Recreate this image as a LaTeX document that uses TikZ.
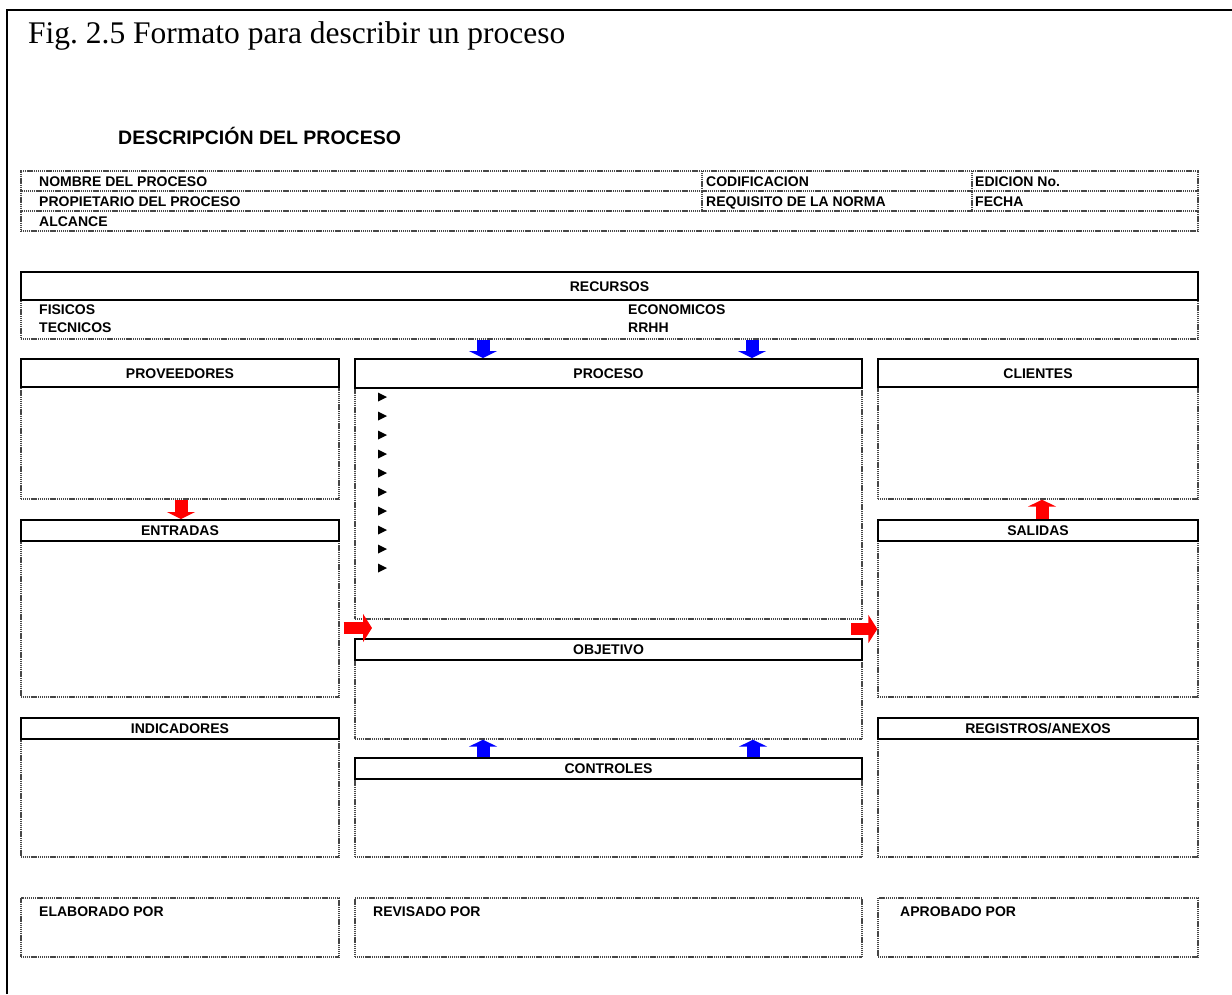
\documentclass[tikz,border=0pt]{standalone}
\usepackage{fontspec}
\setmainfont{Liberation Sans}
\newfontfamily\titlefont{Liberation Serif}
\usetikzlibrary{fit,arrows.meta}
\newcommand\lblfont{\fontsize{14}{16}\selectfont\bfseries}
\begin{document}
\begin{tikzpicture}[x=1pt,y=-1pt,
  dotline/.style={draw=black!72, line width=1.3pt, dash pattern=on 1.2pt off 0.7pt},
  dotbox/.style={dotline, inner sep=0pt},
  hdrbox/.style={draw=black, line width=1.9pt, inner sep=0pt},
  lbl/.style={font=\lblfont, inner sep=0pt, anchor=west, text height=10pt, text depth=0pt},
  hdrtxt/.style={font=\lblfont, inner sep=0pt, text height=10pt, text depth=0pt},
  redv/.style={draw=red, line width=13pt, -{Triangle[width=28pt,length=7pt]}},
  redh/.style={draw=red, line width=12pt, -{Triangle[width=28pt,length=9pt]}},
  bluev/.style={draw=blue, line width=13pt, -{Triangle[width=28pt,length=7pt]}},
  tri/.style={fill=black}
]
\useasboundingbox (0,0) rectangle (1232,994);
% outer frame
\draw[line width=2pt] (7,994) -- (7,10) -- (1232,10);
% titles
\node[anchor=base west, inner sep=0pt, font=\titlefont\fontsize{31.5}{36}\selectfont] (title) at (28,43) {\frenchspacing Fig. 2.5 Formato para describir un proceso};
\node[anchor=base west, inner sep=0pt, font=\fontsize{19.5}{22}\selectfont\bfseries] (desc) at (118,144) {DESCRIPCIÓN DEL PROCESO};
% header table
\node[dotbox, fit={(21,171) (1198,231)}] (tab) {};
\draw[dotline] (tab.west |- 0,191) -- (tab.east |- 0,191);
\draw[dotline] (tab.west |- 0,211) -- (tab.east |- 0,211);
\draw[dotline] (702,171) -- (702,211);
\draw[dotline] (972,171) -- (972,211);
\node[lbl] (nom) at (39,181) {NOMBRE DEL PROCESO};
\node[lbl] (prop) at (39,201) {PROPIETARIO DEL PROCESO};
\node[lbl] (alc) at (39,221) {ALCANCE};
\node[lbl] (cod) at (706,181) {CODIFICACION};
\node[lbl] (req) at (706,201) {REQUISITO DE LA NORMA};
\node[lbl] (edi) at (975,181) {EDICION No.};
\node[lbl] (fec) at (975,201) {FECHA};
% recursos
\node[dotbox, fit={(21,300) (1198,339)}] (recB) {};
\node[hdrbox, fit={(21,272) (1198,300)}] (recH) {};
\node[hdrtxt] (recT) at (recH.center) {RECURSOS};
\node[lbl] (fis) at (39,309) {FISICOS};
\node[lbl] (tec) at (39,327) {TECNICOS};
\node[lbl] (eco) at (628,309) {ECONOMICOS};
\node[lbl] (rrhh) at (628,327) {RRHH};
% left column
\node[dotbox, fit={(21,387) (339,499)}] (provB) {};
\node[hdrbox, fit={(21,359) (339,387)}] (provH) {};
\node[hdrtxt] (provT) at (provH.center) {PROVEEDORES};
\node[dotbox, fit={(21,541) (339,697)}] (entB) {};
\node[hdrbox, fit={(21,520) (339,541)}] (entH) {};
\node[hdrtxt] (entT) at (entH.center) {ENTRADAS};
\node[dotbox, fit={(21,739) (339,857)}] (indB) {};
\node[hdrbox, fit={(21,718) (339,739)}] (indH) {};
\node[hdrtxt] (indT) at (indH.center) {INDICADORES};
% middle column
\node[dotbox, fit={(355,388) (862,619)}] (procB) {};
\node[hdrbox, fit={(355,359) (862,388)}] (procH) {};
\node[hdrtxt] (procT) at (procH.center) {PROCESO};
\node[dotbox, fit={(355,660) (862,739)}] (objB) {};
\node[hdrbox, fit={(355,639) (862,660)}] (objH) {};
\node[hdrtxt] (objT) at (objH.center) {OBJETIVO};
\node[dotbox, fit={(355,779) (862,857)}] (ctrlB) {};
\node[hdrbox, fit={(355,758) (862,779)}] (ctrlH) {};
\node[hdrtxt] (ctrlT) at (ctrlH.center) {CONTROLES};
% right column
\node[dotbox, fit={(878,387) (1198,499)}] (cliB) {};
\node[hdrbox, fit={(878,359) (1198,387)}] (cliH) {};
\node[hdrtxt] (cliT) at (cliH.center) {CLIENTES};
\node[dotbox, fit={(878,541) (1198,697)}] (salB) {};
\node[hdrbox, fit={(878,520) (1198,541)}] (salH) {};
\node[hdrtxt] (salT) at (salH.center) {SALIDAS};
\node[dotbox, fit={(878,739) (1198,857)}] (regB) {};
\node[hdrbox, fit={(878,718) (1198,739)}] (regH) {};
\node[hdrtxt] (regT) at (regH.center) {REGISTROS/ANEXOS};
% bottom signature boxes
\node[dotbox, fit={(21,898) (339,957)}] (elab) {};
\node[dotbox, fit={(355,898) (862,957)}] (rev) {};
\node[dotbox, fit={(878,898) (1198,957)}] (apr) {};
\node[lbl] (elabT) at (39,911) {ELABORADO POR};
\node[lbl] (revT) at (373,911) {REVISADO POR};
\node[lbl] (aprT) at (900,911) {APROBADO POR};
% bullets in PROCESO
\foreach \k in {0,...,9}{
  \fill[tri] (378,{397+19*\k-4.5}) -- (387,{397+19*\k}) -- (378,{397+19*\k+4.5}) -- cycle;
}
% arrows
\draw[bluev] (483,0 |- recB.south) -- (483,0 |- procH.north);
\draw[bluev] (752,0 |- recB.south) -- (752,0 |- procH.north);
\draw[redv] (181,0 |- provB.south) -- (181,0 |- entH.north);
\draw[redv] (1042,0 |- salH.north) -- (1042,0 |- cliB.south);
\coordinate (inL) at (372,628);
\coordinate (outR) at (851,629);
\draw[redh] ([xshift=4pt]entB.east |- inL) -- (inL);
\draw[redh] (outR) -- (salB.west |- outR);
\draw[bluev] (483,0 |- ctrlH.north) -- (483,0 |- objB.south);
\draw[bluev] (753,0 |- ctrlH.north) -- (753,0 |- objB.south);
\end{tikzpicture}
\end{document}
